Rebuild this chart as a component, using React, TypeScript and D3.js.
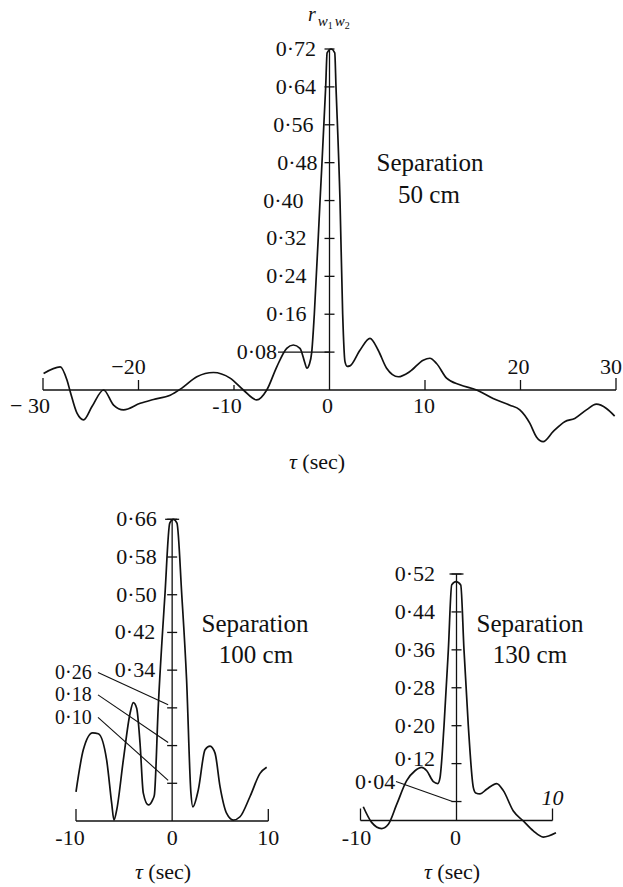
import React from "react";
import * as d3 from "d3";

// ---------- DATA ----------
// Separation 50 cm
const topTau = [-29.94, -28.19, -27.49, -27.14, -26.44, -25.75, -24.87, -23.66, -22.61, -21.57, -19.82, -18.43, -16.68, -15.46, -13.89, -12.15, -10.41, -9.02, -7.62, -6.57, -5.52, -4.48, -3.79, -3.09, -2.56, -2.38, -2.1, -1.86, -1.59, -0.99, -0.4, -0.25, 0.16, 0.55, 0.68, 1.1, 1.38, 1.62, 1.85, 2.14, 3.19, 4.24, 5.1, 5.98, 7.2, 8.42, 9.81, 10.51, 11.21, 12.26, 13.65, 15.4, 17.13, 18.88, 19.93, 20.97, 21.67, 22.37, 23.41, 24.63, 25.68, 26.9, 27.95, 29.0, 29.86];
const topR = [0.035, 0.049, 0.021, -0.004, -0.049, -0.063, -0.035, 0.0, -0.032, -0.042, -0.028, -0.02, -0.011, 0.004, 0.028, 0.037, 0.025, 0.0, -0.021, 0.0, 0.049, 0.088, 0.095, 0.088, 0.056, 0.046, 0.055, 0.08, 0.16, 0.4, 0.64, 0.712, 0.72, 0.712, 0.64, 0.4, 0.16, 0.06, 0.05, 0.051, 0.084, 0.109, 0.084, 0.046, 0.028, 0.039, 0.063, 0.067, 0.056, 0.025, 0.011, 0.0, -0.018, -0.032, -0.042, -0.07, -0.099, -0.109, -0.088, -0.067, -0.06, -0.042, -0.03, -0.039, -0.055];

// Separation 100 cm
const blTau = [-10.0, -9.24, -8.27, -7.68, -6.81, -6.29, -6.05, -5.77, -5.08, -4.38, -4.04, -3.69, -3.34, -3.0, -2.48, -2.03, -1.85, -1.45, -0.75, -0.25, 0.12, 0.5, 1.0, 1.5, 1.95, 2.15, 2.72, 3.42, 3.94, 4.46, 4.98, 5.67, 6.36, 7.06, 8.1, 9.14, 9.83];
const blR = [0.082, 0.171, 0.207, 0.205, 0.149, 0.058, 0.022, 0.043, 0.149, 0.248, 0.271, 0.259, 0.185, 0.079, 0.054, 0.065, 0.075, 0.26, 0.5, 0.652, 0.66, 0.652, 0.5, 0.32, 0.08, 0.05, 0.086, 0.171, 0.179, 0.164, 0.093, 0.036, 0.022, 0.029, 0.072, 0.121, 0.134];

// Separation 130 cm
const brTau = [-9.71, -8.84, -7.8, -7.1, -6.23, -5.19, -4.32, -3.63, -3.1, -2.41, -1.95, -1.72, -1.3, -0.85, -0.5, -0.05, 0.44, 0.78, 1.23, 1.75, 2.0, 2.45, 3.14, 4.19, 4.88, 5.92, 6.96, 8.0, 9.04, 10.36];
const brR = [0.029, -0.004, -0.017, -0.008, 0.034, 0.084, 0.105, 0.112, 0.105, 0.082, 0.078, 0.09, 0.2, 0.36, 0.497, 0.504, 0.497, 0.36, 0.2, 0.07, 0.058, 0.056, 0.066, 0.078, 0.063, 0.02, -0.001, -0.022, -0.035, -0.026];

const topYTicks = [0.08, 0.16, 0.24, 0.32, 0.4, 0.48, 0.56, 0.64, 0.72];
const blYTicks = [0.1, 0.18, 0.26, 0.34, 0.42, 0.5, 0.58, 0.66];
const brYTicks = [0.04, 0.12, 0.2, 0.28, 0.36, 0.44, 0.52];
const topXTicks = [-30, -20, -10, 0, 10, 20, 30];
const topXLabels = ["\u2212 30", "\u221220", "-10", "0", "10", "20", "30"];
const bottomXTicks = [-10, 0, 10];
const bottomXLabels = ["-10", "0", "10"];
const separations = ["50 cm", "100 cm", "130 cm"];

// ---------- LAYOUT ----------
const FONT = "Liberation Serif, Tinos, Times New Roman, serif";
const INK = "#111";
const fmt = (v: number) => d3.format(".2f")(v).replace(".", "\u00b7");

const TICK_FS = 22;
const LEADER_FS = 20;
const SEP_FS = 25;

function curvePath(x: d3.ScaleLinear<number, number>, y: d3.ScaleLinear<number, number>, tau: number[], r: number[]) {
  return d3
    .line<number>()
    .x((_, i) => x(tau[i]))
    .y((_, i) => y(r[i]))
    .curve(d3.curveMonotoneX)(tau) as string;
}

export default function App() {
  const xT = d3.scaleLinear().domain([-30, 30]).range([43, 616]);
  const yT = d3.scaleLinear().domain([0, 0.72]).range([390, 49]);
  const xL = d3.scaleLinear().domain([-10, 10]).range([76, 268.3]);
  const yL = d3.scaleLinear().domain([0.02, 0.66]).range([821, 519.3]);
  const xR = d3.scaleLinear().domain([-10, 10]).range([360.5, 552.5]);
  const yR = d3.scaleLinear().domain([0, 0.52]).range([820.5, 574]);

  const topLabelDx: Record<string, number> = { "0.16": -23, "0.24": -23, "0.32": -23, "0.40": -26, "0.48": -12, "0.56": -16, "0.64": -13.5, "0.72": -13.5 };
  const blLabelDx: Record<string, number> = { "0.34": -17, "0.42": -17, "0.50": -15.5, "0.58": -15.5, "0.66": -15.5 };
  const topXLabelPos = [
    { dx: -13, above: false, tick: 12 },
    { dx: -10, above: true, tick: 10 },
    { dx: -7, above: false, tick: 5 },
    { dx: -2, above: false, tick: 0 },
    { dx: -1, above: false, tick: 10 },
    { dx: -2, above: true, tick: 10 },
    { dx: -5, above: true, tick: 12 },
  ];

  const x0T = xT(0);
  const x0L = xL(0);
  const x0R = xR(0);
  const baseL = yL(0.02);
  const baseR = yR(0);
  const baseT = yT(0);

  const tp = { fontFamily: FONT, fill: INK } as const;

  return (
    <svg width={623} height={887} viewBox="0 0 623 887" style={{ position: "absolute", left: 0, top: 0, background: "#fff" }} fontFamily={FONT}>
      <rect x={0} y={0} width={623} height={887} fill="#fff" />

      {/* ================= TOP PANEL ================= */}
      <g>
        <text x={308} y={21} {...tp}>
          <tspan fontStyle="italic" fontSize={20}>r</tspan>
          <tspan fontStyle="italic" fontSize={15} dx={2} dy={5}>w</tspan>
          <tspan fontSize={10} dy={3}>1</tspan>
          <tspan fontStyle="italic" fontSize={15} dx={2} dy={-3}>w</tspan>
          <tspan fontSize={10} dy={3}>2</tspan>
        </text>
        <line x1={xT(-30)} x2={xT(30)} y1={baseT} y2={baseT} stroke={INK} strokeWidth={1.3} />
        {topXTicks.map((t, i) => {
          const p = topXLabelPos[i];
          return (
            <g key={"tx" + t}>
              {p.tick > 0 && <line x1={xT(t)} x2={xT(t)} y1={baseT} y2={baseT - p.tick} stroke={INK} strokeWidth={1.3} />}
              <text x={xT(t) + p.dx} y={p.above ? baseT - 16 : baseT + 23} textAnchor="middle" fontSize={TICK_FS} {...tp}>
                {topXLabels[i]}
              </text>
            </g>
          );
        })}
        <line x1={x0T} x2={x0T} y1={baseT} y2={yT(0.72)} stroke={INK} strokeWidth={1.3} />
        {topYTicks.map((v) => {
          const key = d3.format(".2f")(v);
          const yy = yT(v);
          return (
            <g key={"ty" + key}>
              <line x1={x0T - 5} x2={x0T + 5} y1={yy} y2={yy} stroke={INK} strokeWidth={1.3} />
              {key === "0.08" ? (
                <>
                  <line x1={278} x2={x0T} y1={yy} y2={yy} stroke={INK} strokeWidth={1.2} />
                  <text x={277} y={yy + 7} textAnchor="end" fontSize={TICK_FS} {...tp}>{fmt(v)}</text>
                </>
              ) : (
                <text x={x0T + (topLabelDx[key] ?? -14)} y={yy + 7} textAnchor="end" fontSize={TICK_FS} {...tp}>{fmt(v)}</text>
              )}
            </g>
          );
        })}
        <path d={curvePath(xT, yT, topTau, topR)} fill="none" stroke={INK} strokeWidth={1.7} />
        <text x={430} y={171} textAnchor="middle" fontSize={SEP_FS} {...tp}>Separation</text>
        <text x={429} y={203} textAnchor="middle" fontSize={SEP_FS} {...tp}>{separations[0]}</text>
        <text x={317} y={469} textAnchor="middle" fontSize={22} {...tp}>
          <tspan fontStyle="italic">τ</tspan> (sec)
        </text>
      </g>

      {/* ================= BOTTOM LEFT ================= */}
      <g>
        <line x1={xL(-10)} x2={xL(10)} y1={baseL} y2={baseL} stroke={INK} strokeWidth={1.3} />
        {bottomXTicks.map((t, i) => (
          <g key={"lx" + t}>
            {t !== 0 && <line x1={xL(t)} x2={xL(t)} y1={baseL} y2={baseL - 12} stroke={INK} strokeWidth={1.3} />}
            <text x={xL(t) + (t === -10 ? -6 : 0)} y={baseL + 24} textAnchor="middle" fontSize={TICK_FS} {...tp}>
              {bottomXLabels[i]}
            </text>
          </g>
        ))}
        <line x1={x0L} x2={x0L} y1={baseL} y2={yL(0.66)} stroke={INK} strokeWidth={1.3} />
        <line x1={x0L - 7} x2={x0L + 7} y1={yL(0.66)} y2={yL(0.66)} stroke={INK} strokeWidth={1.3} />
        {blYTicks.map((v, i) => {
          const key = d3.format(".2f")(v);
          const yy = yL(v);
          const leader = i < 3;
          const ly = 672.5 + (2 - i) * 22.4;
          return (
            <g key={"ly" + key}>
              <line x1={x0L - 5} x2={x0L + 5} y1={yy} y2={yy} stroke={INK} strokeWidth={1.3} />
              {leader ? (
                <>
                  <line x1={98} y1={ly} x2={x0L - 4} y2={yy - 3} stroke={INK} strokeWidth={1.1} />
                  <text x={55} y={ly + 6.5} textAnchor="start" fontSize={LEADER_FS} {...tp}>{fmt(v)}</text>
                </>
              ) : (
                <text x={x0L + (blLabelDx[key] ?? -16)} y={yy + 7} textAnchor="end" fontSize={TICK_FS} {...tp}>{fmt(v)}</text>
              )}
            </g>
          );
        })}
        <path d={curvePath(xL, yL, blTau, blR)} fill="none" stroke={INK} strokeWidth={1.7} />
        <text x={255} y={632} textAnchor="middle" fontSize={SEP_FS} {...tp}>Separation</text>
        <text x={256} y={663} textAnchor="middle" fontSize={SEP_FS} {...tp}>{separations[1]}</text>
        <text x={163} y={879} textAnchor="middle" fontSize={22} {...tp}>
          <tspan fontStyle="italic">τ</tspan> (sec)
        </text>
      </g>

      {/* ================= BOTTOM RIGHT ================= */}
      <g>
        <line x1={xR(-10)} x2={xR(10)} y1={baseR} y2={baseR} stroke={INK} strokeWidth={1.3} />
        {bottomXTicks.map((t, i) => (
          <g key={"rx" + t}>
            {t !== 0 && <line x1={xR(t)} x2={xR(t)} y1={baseR} y2={baseR - 12} stroke={INK} strokeWidth={1.3} />}
            <text
              x={xR(t) + (t === -10 ? -4 : t === 0 ? -1 : 0)}
              y={t === 10 ? baseR - 16 : baseR + 24}
              textAnchor="middle"
              fontSize={TICK_FS}
              fontStyle={t === 10 ? "italic" : "normal"}
              {...tp}
            >
              {bottomXLabels[i]}
            </text>
          </g>
        ))}
        <line x1={x0R} x2={x0R} y1={baseR} y2={yR(0.52)} stroke={INK} strokeWidth={1.3} />
        <line x1={x0R - 7} x2={x0R + 7} y1={yR(0.52)} y2={yR(0.52)} stroke={INK} strokeWidth={1.3} />
        {brYTicks.map((v) => {
          const key = d3.format(".2f")(v);
          const yy = yR(v);
          return (
            <g key={"ry" + key}>
              <line x1={x0R - 5} x2={x0R + 5} y1={yy} y2={yy} stroke={INK} strokeWidth={1.3} />
              {key === "0.04" ? (
                <>
                  <line x1={396} y1={yy - 20} x2={x0R - 4} y2={yy} stroke={INK} strokeWidth={1.1} />
                  <text x={355} y={yy - 13} textAnchor="start" fontSize={TICK_FS} {...tp}>{fmt(v)}</text>
                </>
              ) : (
                <text x={x0R - 21.5} y={yy + 7 - (key === "0.12" ? 5 : 0)} textAnchor="end" fontSize={TICK_FS} {...tp}>{fmt(v)}</text>
              )}
            </g>
          );
        })}
        <path d={curvePath(xR, yR, brTau, brR)} fill="none" stroke={INK} strokeWidth={1.7} />
        <text x={530} y={632} textAnchor="middle" fontSize={SEP_FS} {...tp}>Separation</text>
        <text x={530} y={663} textAnchor="middle" fontSize={SEP_FS} {...tp}>{separations[2]}</text>
        <text x={452} y={879} textAnchor="middle" fontSize={22} {...tp}>
          <tspan fontStyle="italic">τ</tspan> (sec)
        </text>
      </g>
    </svg>
  );
}
